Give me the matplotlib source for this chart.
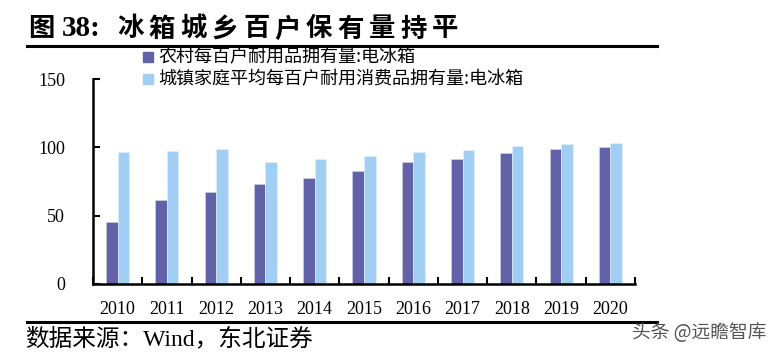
import numpy as np
import matplotlib.pyplot as plt
from matplotlib.lines import Line2D
from matplotlib.patches import Rectangle

years = ['2010', '2011', '2012', '2013', '2014', '2015', '2016', '2017', '2018', '2019', '2020']
rural = [45.2, 61.5, 67.3, 72.9, 77.6, 82.6, 89.5, 91.7, 95.9, 98.6, 100.1]
urban = [96.6, 97.2, 98.5, 89.2, 91.7, 94.0, 96.4, 98.0, 100.9, 102.5, 103.1]
yticks = [0, 50, 100, 150]

rural_label = '农村每百户耐用品拥有量:电冰箱'
urban_label = '城镇家庭平均每百户耐用消费品拥有量:电冰箱'
title = '冰箱城乡百户保有量持平'

cjk = ['Noto Sans CJK SC', 'DejaVu Sans']
serif = ['Liberation Serif', 'DejaVu Serif']
mixed = ['Liberation Serif', 'Noto Sans CJK SC']
c_rural = '#6162a8'
c_urban = '#a1cff4'

fig = plt.figure(figsize=(7.7, 3.56), dpi=100)
ax = fig.add_axes([93 / 770, 1 - 284 / 356, 542 / 770, 205 / 356])

x = np.arange(len(years))
w = 0.235
ax.bar(x - w / 2, rural, w, color=c_rural, edgecolor='#d8d8e8', linewidth=0.4)
ax.bar(x + w / 2, urban, w, color=c_urban, edgecolor='#e8f3fc', linewidth=0.4)

ax.set_xlim(-0.5, len(years) - 0.5)
ax.set_ylim(0, 150)
ax.set_yticks(yticks)
ax.set_yticklabels([str(v) for v in yticks], family=serif, fontsize=13)
ax.set_xticks(x)
ax.set_xticklabels(years, family=serif, fontsize=13)
ax.tick_params(axis='x', which='major', length=0, pad=12)
ax.set_xticks(np.arange(len(years) + 1) - 0.5, minor=True)
ax.tick_params(axis='x', which='minor', direction='in', length=5, width=1.5)
ax.tick_params(axis='y', direction='in', length=5, width=1.5, pad=20)
for s in ['top', 'right']:
    ax.spines[s].set_visible(False)
for s in ['left', 'bottom']:
    ax.spines[s].set_linewidth(1.8)

# title (spaced characters) and rules
fig.text(28 / 770, 1 - 29 / 356, '图', family=cjk, fontsize=19, fontweight='bold',
         va='center', ha='left')
fig.text(62 / 770, 1 - 29 / 356, '38:', family=mixed, fontsize=21, fontweight='bold',
         va='center', ha='left')
for i, ch in enumerate(title):
    fig.text((117 + 31.5 * i) / 770, 1 - 29 / 356, ch, family=cjk, fontsize=19,
             fontweight='bold', va='center', ha='left')
fig.add_artist(Line2D([27 / 770, 657 / 770], [1 - 46 / 356, 1 - 46 / 356], color='black', lw=2.2))
fig.add_artist(Line2D([27 / 770, 657 / 770], [1 - 321.5 / 356, 1 - 321.5 / 356], color='black', lw=2.2))

# legend
for yy, col, lab in [(57, c_rural, rural_label), (79, c_urban, urban_label)]:
    fig.add_artist(Rectangle((143 / 770, 1 - (yy + 5) / 356), 10 / 770, 10 / 356,
                             color=col, transform=fig.transFigure))
    fig.text(158 / 770, 1 - yy / 356, lab, family=cjk, fontsize=13, va='center', ha='left')

fig.text(25 / 770, 1 - 339 / 356, '数据来源：Wind，东北证券', family=mixed,
         fontsize=17, va='center', ha='left')
fig.text(767 / 770, 1 - 333 / 356, '头条 @远瞻智库', family=cjk, fontsize=13.5, color='#555555',
         va='center', ha='right')

fig.savefig('out.png', dpi=100)
